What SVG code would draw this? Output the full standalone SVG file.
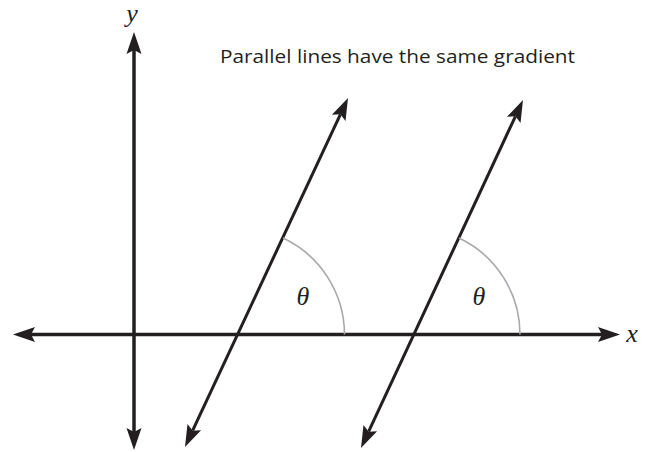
<svg xmlns="http://www.w3.org/2000/svg" width="645" height="452" viewBox="0 0 645 452">
<style>
.ax{stroke:#231f20;stroke-width:3.5;fill:none}
.ln{stroke:#231f20;stroke-width:3;fill:none}
.arc{stroke:#a7a9ac;stroke-width:1.6;fill:none}
.lbl{font-family:"Liberation Serif","Times New Roman",serif;font-style:italic;font-size:26px;fill:#231f20}
.title{font-family:"Open Sans","Liberation Sans",sans-serif;font-size:19px;fill:#231f20}
</style>
<defs>
<marker id="ah" markerUnits="userSpaceOnUse" markerWidth="24" markerHeight="18" viewBox="0 -9 24 18" refX="4" refY="0" orient="auto-start-reverse">
<path d="M0,-7.5 L22,0 L0,7.5 L4,0 Z" fill="#231f20"/>
</marker>
</defs>
<rect width="645" height="452" fill="#ffffff"/>
<g id="connectors">
<line id="y-axis" class="ax" x1="134" y1="50" x2="134" y2="432" marker-start="url(#ah)" marker-end="url(#ah)"/>
<line id="x-axis" class="ax" x1="31" y1="334.5" x2="602" y2="334.5" marker-start="url(#ah)" marker-end="url(#ah)"/>
<line id="line1" class="ln" x1="192.6" y1="430.7" x2="340.4" y2="114.3" marker-start="url(#ah)" marker-end="url(#ah)"/>
<line id="line2" class="ln" x1="368.6" y1="431.7" x2="515.4" y2="116.3" marker-start="url(#ah)" marker-end="url(#ah)"/>
</g>
<g id="angle1">
<path class="arc" d="M344.5,334.5 A107,107 0 0 0 283,238"/>
<text class="lbl" x="303" y="305" text-anchor="middle">θ</text>
</g>
<g id="angle2">
<path class="arc" d="M520,334.5 A107,107 0 0 0 459,238"/>
<text class="lbl" x="479" y="305" text-anchor="middle">θ</text>
</g>
<g id="labels">
<text class="lbl" x="132" y="22" text-anchor="middle">y</text>
<text class="lbl" x="632" y="342" text-anchor="middle">x</text>
<text class="title" x="397.5" y="63" text-anchor="middle" textLength="355" lengthAdjust="spacingAndGlyphs">Parallel lines have the same gradient</text>
</g>
</svg>
